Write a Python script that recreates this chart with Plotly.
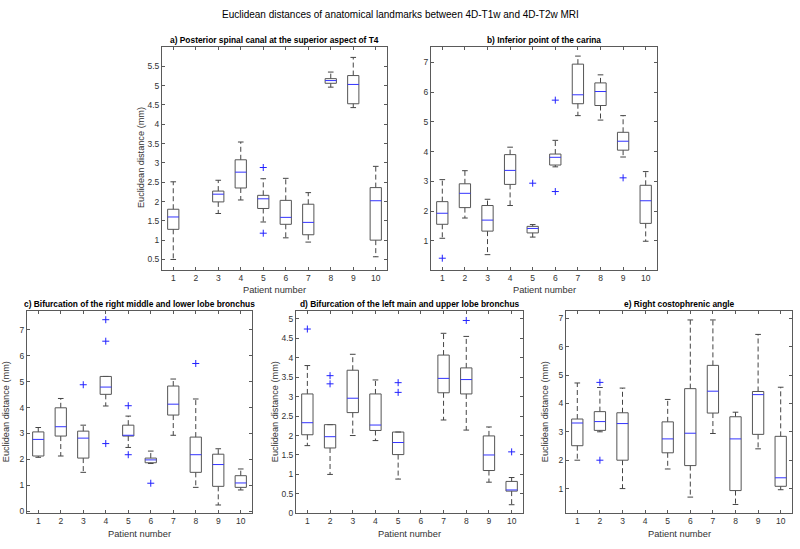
import plotly.graph_objects as go

W, H = 800, 549
patients = [1, 2, 3, 4, 5, 6, 7, 8, 9, 10]
patient_labels = [str(p) for p in patients]

main_title = "Euclidean distances of anatomical landmarks between 4D-T1w and 4D-T2w MRI"

# ---------------- Panel a ----------------
a_title = "a) Posterior spinal canal at the superior aspect of T4"
a_lower = [0.50, None, 1.69, 2.04, 1.47, 1.06, 0.95, 4.96, 4.43, 0.57]
a_q1 = [1.28, None, 1.99, 2.35, 1.82, 1.41, 1.14, 5.06, 4.53, 1.00]
a_med = [1.60, None, 2.19, 2.76, 2.07, 1.59, 1.46, 5.13, 5.03, 2.02]
a_q3 = [1.80, None, 2.27, 3.08, 2.16, 2.03, 1.93, 5.18, 5.26, 2.36]
a_upper = [2.51, None, 2.55, 3.54, 2.59, 2.60, 2.23, 5.35, 5.73, 2.91]
a_out = [[], [], [], [], [2.88, 1.18], [], [], [], [], []]
a_yticks = [0.5, 1, 1.5, 2, 2.5, 3, 3.5, 4, 4.5, 5, 5.5]

# ---------------- Panel b ----------------
b_title = "b) Inferior point of the carina"
b_lower = [1.09, 1.77, 0.54, 2.19, 1.13, 3.49, 5.21, 5.06, 3.82, 0.99]
b_q1 = [1.56, 2.12, 1.33, 2.90, 1.27, 3.55, 5.61, 5.55, 4.05, 1.59]
b_med = [1.93, 2.60, 1.70, 3.37, 1.42, 3.81, 5.91, 6.02, 4.35, 2.35]
b_q3 = [2.32, 2.92, 2.19, 3.90, 1.49, 3.92, 6.94, 6.31, 4.65, 2.87]
b_upper = [3.06, 3.36, 2.40, 4.15, 1.55, 4.38, 7.21, 6.58, 5.21, 3.33]
b_out = [[0.42], [], [], [], [2.94], [5.73, 2.66], [], [], [3.12], []]
b_yticks = [1, 2, 3, 4, 5, 6, 7]

# ---------------- Panel c ----------------
c_title = "c) Bifurcation of the right middle and lower lobe bronchus"
c_lower = [2.08, 2.13, 1.50, 4.06, 2.46, 1.84, 2.93, 0.92, 0.24, 0.82]
c_q1 = [2.13, 2.90, 2.05, 4.51, 2.90, 1.87, 3.71, 1.50, 0.96, 0.92]
c_med = [2.77, 3.26, 2.82, 4.79, 2.93, 1.98, 4.13, 2.18, 1.80, 1.09]
c_q3 = [3.06, 3.99, 3.09, 5.20, 3.32, 2.05, 4.83, 2.86, 2.20, 1.37]
c_upper = [3.23, 4.35, 3.32, 5.20, 3.67, 2.32, 5.10, 4.33, 2.41, 1.63]
c_out = [[], [], [4.88], [7.39, 6.56, 2.61], [4.07, 2.18], [1.08], [], [5.70], [], []]
c_yticks = [0, 1, 2, 3, 4, 5, 6, 7]

# ---------------- Panel d ----------------
d_title = "d) Bifurcation of the left main and upper lobe bronchus"
d_lower = [1.74, 1.00, 2.00, 1.87, 0.88, None, 2.40, 2.14, 0.80, 0.22]
d_q1 = [2.02, 1.68, 2.59, 2.13, 1.51, None, 3.10, 3.07, 1.10, 0.57]
d_med = [2.33, 1.97, 2.96, 2.27, 1.82, None, 3.47, 3.44, 1.50, 0.60]
d_q3 = [3.07, 2.28, 3.68, 3.07, 2.09, None, 4.07, 3.74, 1.99, 0.82]
d_upper = [3.80, 2.28, 4.09, 3.43, 2.09, None, 4.63, 4.55, 2.22, 0.92]
d_out = [[4.74], [3.54, 3.33], [], [], [3.36, 3.11], [], [], [4.96], [], [1.58]]
d_yticks = [0, 0.5, 1, 1.5, 2, 2.5, 3, 3.5, 4, 4.5, 5]

# ---------------- Panel e ----------------
e_title = "e) Right costophrenic angle"
e_lower = [2.00, 3.00, 1.00, None, 1.69, 0.70, 2.94, 0.44, 2.40, 0.96]
e_q1 = [2.51, 3.05, 2.00, None, 2.26, 1.81, 3.66, 0.93, 2.91, 1.08]
e_med = [3.31, 3.36, 3.29, None, 2.75, 2.95, 4.43, 2.75, 4.31, 1.38]
e_q3 = [3.45, 3.71, 3.67, None, 3.35, 4.52, 5.34, 3.53, 4.42, 2.84]
e_upper = [4.72, 4.56, 4.54, None, 4.14, 6.94, 6.94, 3.69, 6.43, 4.57]
e_out = [[], [4.74, 2.00], [], [], [], [], [], [], [], []]
e_yticks = [1, 2, 3, 4, 5, 6, 7]

# ---------------- layout geometry (pixels) ----------------
panels = [
    dict(title=a_title, lower=a_lower, q1=a_q1, med=a_med, q3=a_q3, upper=a_upper, out=a_out,
         yticks=a_yticks, yrange=[0.24, 6.01], box=(162, 387, 47, 272), ylabel=True),
    dict(title=b_title, lower=b_lower, q1=b_q1, med=b_med, q3=b_q3, upper=b_upper, out=b_out,
         yticks=b_yticks, yrange=[0.04, 7.53], box=(431, 657, 47, 272), ylabel=False),
    dict(title=c_title, lower=c_lower, q1=c_q1, med=c_med, q3=c_q3, upper=c_upper, out=c_out,
         yticks=c_yticks, yrange=[-0.08, 7.72], box=(27, 252, 314, 518), ylabel=True),
    dict(title=d_title, lower=d_lower, q1=d_q1, med=d_med, q3=d_q3, upper=d_upper, out=d_out,
         yticks=d_yticks, yrange=[0.0, 5.2], box=(296, 523, 314, 518), ylabel=True),
    dict(title=e_title, lower=e_lower, q1=e_q1, med=e_med, q3=e_q3, upper=e_upper, out=e_out,
         yticks=e_yticks, yrange=[0.13, 7.25], box=(566, 792, 314, 518), ylabel=True),
]

BOX_HALF = 0.25
CAP_HALF = 0.125
FONT = "Liberation Sans, Arial, sans-serif"
AXCOL = "#5a5a5a"
TXTCOL = "#333333"

fig = go.Figure()
annotations = [dict(text=main_title, x=0.5, y=1 - 15 / H, xref="paper", yref="paper",
                    showarrow=False, font=dict(size=10, color="#000000", family=FONT),
                    xanchor="center", yanchor="middle")]

for i, p in enumerate(panels):
    n = "" if i == 0 else str(i + 1)
    xa, ya = "x" + n, "y" + n
    bx_l, bx_r, by_t, by_b = p["box"]

    box_x, box_y, wh_x, wh_y, cap_x, cap_y, med_x, med_y, out_x, out_y = ([] for _ in range(10))
    for k, pt in enumerate(patients):
        if p["med"][k] is None:
            continue
        lo, q1, md, q3, up = p["lower"][k], p["q1"][k], p["med"][k], p["q3"][k], p["upper"][k]
        box_x += [pt - BOX_HALF, pt + BOX_HALF, pt + BOX_HALF, pt - BOX_HALF, pt - BOX_HALF, None]
        box_y += [q1, q1, q3, q3, q1, None]
        wh_x += [pt, pt, None, pt, pt, None]
        wh_y += [q3, up, None, q1, lo, None]
        cap_x += [pt - CAP_HALF, pt + CAP_HALF, None, pt - CAP_HALF, pt + CAP_HALF, None]
        cap_y += [up, up, None, lo, lo, None]
        med_x += [pt - BOX_HALF, pt + BOX_HALF, None]
        med_y += [md, md, None]
        for v in p["out"][k]:
            out_x.append(pt)
            out_y.append(v)

    common = dict(xaxis=xa, yaxis=ya, showlegend=False, hoverinfo="skip")
    fig.add_trace(go.Scatter(x=wh_x, y=wh_y, mode="lines",
                             line=dict(color="#444444", width=1, dash="5px,3px"), **common))
    fig.add_trace(go.Scatter(x=cap_x, y=cap_y, mode="lines",
                             line=dict(color="#444444", width=1), **common))
    fig.add_trace(go.Scatter(x=box_x, y=box_y, mode="lines",
                             line=dict(color="#555555", width=1), **common))
    fig.add_trace(go.Scatter(x=med_x, y=med_y, mode="lines",
                             line=dict(color="#3333ff", width=1), **common))
    fig.add_trace(go.Scatter(x=out_x, y=out_y, mode="markers",
                             marker=dict(symbol="cross-thin", size=5, line=dict(color="#2222ff", width=1)),
                             **common))

    xdom = [bx_l / W, bx_r / W]
    ydom = [1 - by_b / H, 1 - by_t / H]
    axcommon = dict(showline=True, linecolor=AXCOL, linewidth=1, mirror="ticks", ticks="inside",
                    ticklen=3, tickcolor=AXCOL, showgrid=False, zeroline=False,
                    tickfont=dict(size=8.5, color=TXTCOL, family=FONT))
    fig.layout["xaxis" + n] = dict(domain=xdom, range=[0.5, 10.5], tickvals=patients,
                                   ticktext=patient_labels, anchor=ya, **axcommon)
    fig.layout["yaxis" + n] = dict(domain=ydom, range=p["yrange"], tickvals=p["yticks"],
                                   ticktext=[("%g" % v) for v in p["yticks"]], anchor=xa, **axcommon)

    cx = (bx_l + bx_r) / 2 / W
    annotations.append(dict(text="<b>" + p["title"] + "</b>", x=cx, y=1 - (by_t - 7) / H,
                            xref="paper", yref="paper", showarrow=False,
                            font=dict(size=8.4, color="#000000", family=FONT),
                            xanchor="center", yanchor="middle"))
    annotations.append(dict(text="Patient number", x=cx, y=1 - (by_b + 21) / H,
                            xref="paper", yref="paper", showarrow=False,
                            font=dict(size=9.3, color=TXTCOL, family=FONT),
                            xanchor="center", yanchor="middle"))
    if p["ylabel"]:
        annotations.append(dict(text="Euclidean distance (mm)", x=(bx_l - 21) / W,
                                y=1 - (by_t + by_b) / 2 / H, xref="paper", yref="paper",
                                showarrow=False, textangle=-90,
                                font=dict(size=9.2, color=TXTCOL, family=FONT),
                                xanchor="center", yanchor="middle"))

fig.update_layout(width=W, height=H, margin=dict(l=0, r=0, t=0, b=0),
                  paper_bgcolor="white", plot_bgcolor="white",
                  annotations=annotations, font=dict(family=FONT))

fig.write_html("out.html", config={"displayModeBar": False},
               post_script="document.body.style.margin='0';document.body.style.overflow='hidden';")
